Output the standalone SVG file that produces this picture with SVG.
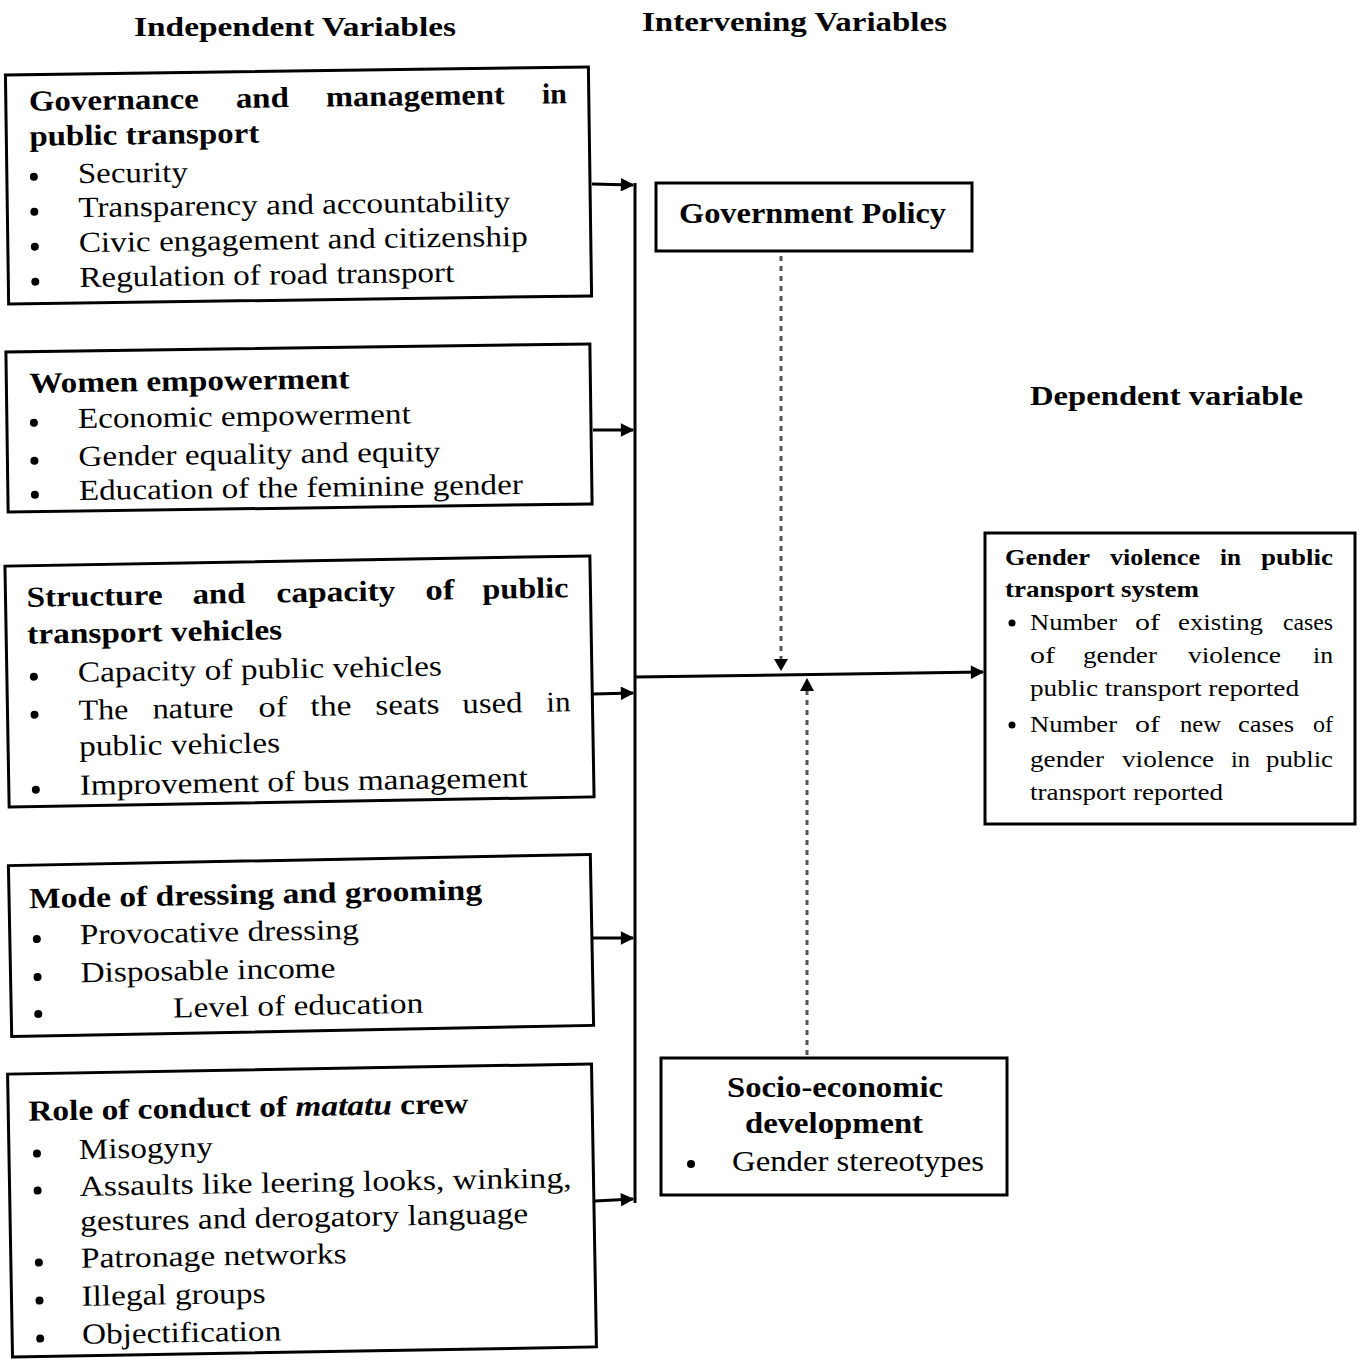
<svg xmlns="http://www.w3.org/2000/svg" width="1363" height="1360" viewBox="0 0 1363 1360">
<style>
text{font-family:"Liberation Serif","Times New Roman",serif;fill:#000}
.h{font-size:28px;font-weight:bold}
.t{font-size:29px;font-weight:bold}
.b{font-size:29px}
.s{font-size:24px}
.sb{font-size:24px;font-weight:bold}
.box{fill:#fff;stroke:#000;stroke-width:3}
.ln{stroke:#000;stroke-width:3;fill:none}
.dot{stroke:#555;stroke-width:3;fill:none;stroke-dasharray:5 5}
</style>
<defs>
<marker id="ah" viewBox="0 0 10 10" refX="9" refY="5" markerWidth="5" markerHeight="4.5" orient="auto" markerUnits="strokeWidth">
<path d="M0,0 L10,5 L0,10 Z" fill="#000"/>
</marker>
</defs>
<rect width="1363" height="1360" fill="#fff"/>

<g id="headers">
<text class="h" x="134" y="36" textLength="322" lengthAdjust="spacingAndGlyphs">Independent Variables</text>
<text class="h" x="642" y="31" textLength="305" lengthAdjust="spacingAndGlyphs">Intervening Variables</text>
<text class="h" x="1030" y="405" textLength="273" lengthAdjust="spacingAndGlyphs">Dependent variable</text>
</g>

<g id="connectors">
<line class="ln" x1="635" y1="183" x2="635" y2="1203"/>
<line class="ln" x1="592" y1="184" x2="633" y2="185" marker-end="url(#ah)"/>
<line class="ln" x1="593" y1="430" x2="633" y2="430" marker-end="url(#ah)"/>
<line class="ln" x1="593" y1="694" x2="633" y2="693" marker-end="url(#ah)"/>
<line class="ln" x1="593" y1="938" x2="633" y2="938" marker-end="url(#ah)"/>
<line class="ln" x1="595" y1="1201" x2="633" y2="1199" marker-end="url(#ah)"/>
<line class="ln" x1="635" y1="677" x2="983" y2="672" marker-end="url(#ah)"/>
<line class="dot" x1="781" y1="256" x2="781" y2="660"/>
<path d="M774,659 L788,659 L781,671 Z" fill="#000"/>
<line class="dot" x1="807" y1="1055" x2="807" y2="690"/>
<path d="M800,691 L814,691 L807,678 Z" fill="#000"/>
</g>

<g id="governance" transform="rotate(-0.8 298 185)">
<rect class="box" x="7" y="71" width="583" height="229"/>
<text class="t" x="30" y="107" textLength="170" lengthAdjust="spacingAndGlyphs">Governance</text>
<text class="t" x="237" y="107" textLength="53" lengthAdjust="spacingAndGlyphs">and</text>
<text class="t" x="327" y="107" textLength="179" lengthAdjust="spacingAndGlyphs">management</text>
<text class="t" x="543" y="107" textLength="25" lengthAdjust="spacingAndGlyphs">in</text>
<text class="t" x="30" y="142" textLength="230" lengthAdjust="spacingAndGlyphs">public transport</text>
<circle cx="34" cy="173" r="4"/>
<text class="b" x="78" y="180" textLength="110" lengthAdjust="spacingAndGlyphs">Security</text>
<circle cx="34" cy="208" r="4"/>
<text class="b" x="78" y="214" textLength="432" lengthAdjust="spacingAndGlyphs">Transparency and accountability</text>
<circle cx="34" cy="243" r="4"/>
<text class="b" x="78" y="249" textLength="449" lengthAdjust="spacingAndGlyphs">Civic engagement and citizenship</text>
<circle cx="34" cy="278" r="4"/>
<text class="b" x="78" y="284" textLength="375" lengthAdjust="spacingAndGlyphs">Regulation of road transport</text>
</g>

<g id="women" transform="rotate(-0.8 299 428)">
<rect class="box" x="7" y="348" width="584" height="160"/>
<text class="t" x="30" y="389" textLength="320" lengthAdjust="spacingAndGlyphs">Women empowerment</text>
<circle cx="34" cy="419" r="4"/>
<text class="b" x="78" y="425" textLength="333" lengthAdjust="spacingAndGlyphs">Economic empowerment</text>
<circle cx="34" cy="457" r="4"/>
<text class="b" x="78" y="463" textLength="362" lengthAdjust="spacingAndGlyphs">Gender equality and equity</text>
<circle cx="34" cy="491" r="4"/>
<text class="b" x="78" y="497" textLength="444" lengthAdjust="spacingAndGlyphs">Education of the feminine gender</text>
</g>

<g id="structure" transform="rotate(-1 300 681)">
<rect class="box" x="7" y="561" width="585" height="241"/>
<text class="t" x="28" y="602" textLength="136" lengthAdjust="spacingAndGlyphs">Structure</text>
<text class="t" x="194" y="602" textLength="53" lengthAdjust="spacingAndGlyphs">and</text>
<text class="t" x="278" y="602" textLength="119" lengthAdjust="spacingAndGlyphs">capacity</text>
<text class="t" x="427" y="602" textLength="29" lengthAdjust="spacingAndGlyphs">of</text>
<text class="t" x="484" y="602" textLength="86" lengthAdjust="spacingAndGlyphs">public</text>
<text class="t" x="28" y="639" textLength="255" lengthAdjust="spacingAndGlyphs">transport vehicles</text>
<circle cx="34" cy="672" r="4"/>
<text class="b" x="78" y="678" textLength="364" lengthAdjust="spacingAndGlyphs">Capacity of public vehicles</text>
<circle cx="34" cy="710" r="4"/>
<text class="b" x="78" y="716" textLength="50" lengthAdjust="spacingAndGlyphs">The</text>
<text class="b" x="152" y="716" textLength="81" lengthAdjust="spacingAndGlyphs">nature</text>
<text class="b" x="258" y="716" textLength="29" lengthAdjust="spacingAndGlyphs">of</text>
<text class="b" x="310" y="716" textLength="41" lengthAdjust="spacingAndGlyphs">the</text>
<text class="b" x="375" y="716" textLength="64" lengthAdjust="spacingAndGlyphs">seats</text>
<text class="b" x="462" y="716" textLength="60" lengthAdjust="spacingAndGlyphs">used</text>
<text class="b" x="546" y="716" textLength="24" lengthAdjust="spacingAndGlyphs">in</text>
<text class="b" x="78" y="752" textLength="201" lengthAdjust="spacingAndGlyphs">public vehicles</text>
<circle cx="34" cy="785" r="4"/>
<text class="b" x="78" y="791" textLength="448" lengthAdjust="spacingAndGlyphs">Improvement of bus management</text>
</g>

<g id="dressing" transform="rotate(-1.1 301 945)">
<rect class="box" x="10" y="860" width="582" height="171"/>
<text class="t" x="30" y="903" textLength="453" lengthAdjust="spacingAndGlyphs">Mode of dressing and grooming</text>
<circle cx="37" cy="934" r="4"/>
<text class="b" x="80" y="940" textLength="279" lengthAdjust="spacingAndGlyphs">Provocative dressing</text>
<circle cx="37" cy="972" r="4"/>
<text class="b" x="80" y="978" textLength="255" lengthAdjust="spacingAndGlyphs">Disposable income</text>
<circle cx="37" cy="1009" r="4"/>
<text class="b" x="172" y="1015" textLength="250" lengthAdjust="spacingAndGlyphs">Level of education</text>
</g>

<g id="matatu" transform="rotate(-1 302 1210)">
<rect class="box" x="10" y="1069" width="584" height="283"/>
<text class="t" x="30" y="1116" textLength="440" lengthAdjust="spacingAndGlyphs">Role of conduct of <tspan font-style="italic">matatu</tspan> crew</text>
<circle cx="38" cy="1149" r="4"/>
<text class="b" x="80" y="1155" textLength="134" lengthAdjust="spacingAndGlyphs">Misogyny</text>
<circle cx="38" cy="1186" r="4"/>
<text class="b" x="80" y="1192" textLength="492" lengthAdjust="spacingAndGlyphs">Assaults like leering looks, winking,</text>
<text class="b" x="80" y="1227" textLength="448" lengthAdjust="spacingAndGlyphs">gestures and derogatory language</text>
<circle cx="38" cy="1258" r="4"/>
<text class="b" x="80" y="1264" textLength="266" lengthAdjust="spacingAndGlyphs">Patronage networks</text>
<circle cx="38" cy="1296" r="4"/>
<text class="b" x="80" y="1302" textLength="184" lengthAdjust="spacingAndGlyphs">Illegal groups</text>
<circle cx="38" cy="1334" r="4"/>
<text class="b" x="80" y="1340" textLength="199" lengthAdjust="spacingAndGlyphs">Objectification</text>
</g>

<g id="policy">
<rect class="box" x="656" y="183" width="316" height="68"/>
<text class="t" x="679" y="223" textLength="267" lengthAdjust="spacingAndGlyphs">Government Policy</text>
</g>

<g id="socio">
<rect class="box" x="661" y="1058" width="346" height="137"/>
<text class="t" x="727" y="1097" textLength="216" lengthAdjust="spacingAndGlyphs">Socio-economic</text>
<text class="t" x="745" y="1133" textLength="178" lengthAdjust="spacingAndGlyphs">development</text>
<circle cx="691" cy="1164" r="4"/>
<text class="b" x="732" y="1171" textLength="252" lengthAdjust="spacingAndGlyphs">Gender stereotypes</text>
</g>

<g id="dependent">
<rect class="box" x="985" y="533" width="370" height="291"/>
<text class="sb" x="1005" y="565" textLength="85" lengthAdjust="spacingAndGlyphs">Gender</text>
<text class="sb" x="1110" y="565" textLength="90" lengthAdjust="spacingAndGlyphs">violence</text>
<text class="sb" x="1220" y="565" textLength="21" lengthAdjust="spacingAndGlyphs">in</text>
<text class="sb" x="1261" y="565" textLength="72" lengthAdjust="spacingAndGlyphs">public</text>
<text class="sb" x="1005" y="597" textLength="194" lengthAdjust="spacingAndGlyphs">transport system</text>
<circle cx="1012" cy="623" r="3.5"/>
<text class="s" x="1030" y="630" textLength="87" lengthAdjust="spacingAndGlyphs">Number</text>
<text class="s" x="1135" y="630" textLength="25" lengthAdjust="spacingAndGlyphs">of</text>
<text class="s" x="1178" y="630" textLength="85" lengthAdjust="spacingAndGlyphs">existing</text>
<text class="s" x="1283" y="630" textLength="50" lengthAdjust="spacingAndGlyphs">cases</text>
<text class="s" x="1030" y="663" textLength="25" lengthAdjust="spacingAndGlyphs">of</text>
<text class="s" x="1083" y="663" textLength="74" lengthAdjust="spacingAndGlyphs">gender</text>
<text class="s" x="1188" y="663" textLength="93" lengthAdjust="spacingAndGlyphs">violence</text>
<text class="s" x="1313" y="663" textLength="20" lengthAdjust="spacingAndGlyphs">in</text>
<text class="s" x="1030" y="696" textLength="269" lengthAdjust="spacingAndGlyphs">public transport reported</text>
<circle cx="1012" cy="725" r="3.5"/>
<text class="s" x="1030" y="732" textLength="87" lengthAdjust="spacingAndGlyphs">Number</text>
<text class="s" x="1135" y="732" textLength="25" lengthAdjust="spacingAndGlyphs">of</text>
<text class="s" x="1180" y="732" textLength="41" lengthAdjust="spacingAndGlyphs">new</text>
<text class="s" x="1238" y="732" textLength="56" lengthAdjust="spacingAndGlyphs">cases</text>
<text class="s" x="1313" y="732" textLength="20" lengthAdjust="spacingAndGlyphs">of</text>
<text class="s" x="1030" y="767" textLength="74" lengthAdjust="spacingAndGlyphs">gender</text>
<text class="s" x="1122" y="767" textLength="92" lengthAdjust="spacingAndGlyphs">violence</text>
<text class="s" x="1231" y="767" textLength="19" lengthAdjust="spacingAndGlyphs">in</text>
<text class="s" x="1266" y="767" textLength="67" lengthAdjust="spacingAndGlyphs">public</text>
<text class="s" x="1030" y="800" textLength="193" lengthAdjust="spacingAndGlyphs">transport reported</text>
</g>
</svg>
